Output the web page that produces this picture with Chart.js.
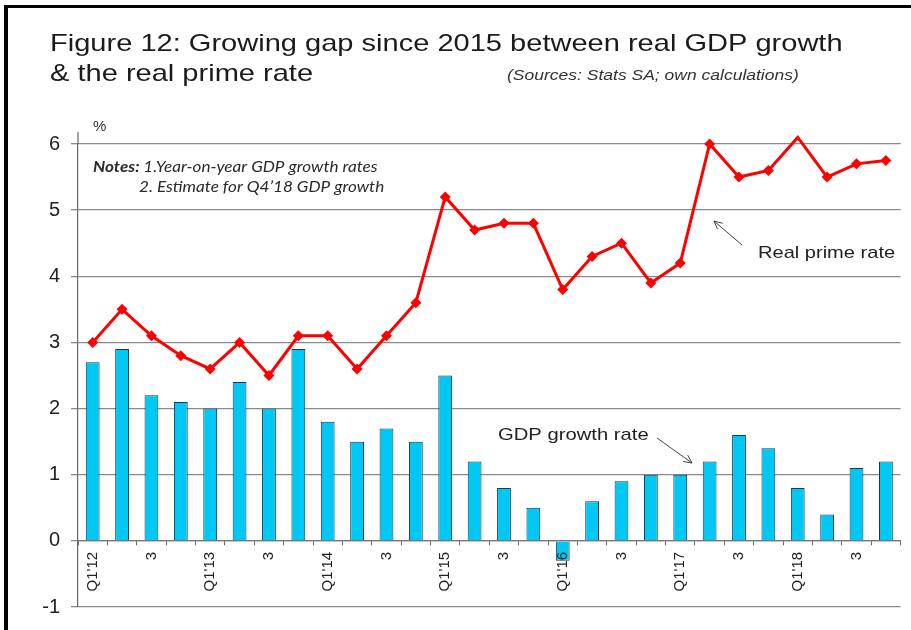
<!DOCTYPE html>
<html>
<head>
<meta charset="utf-8">
<script src="https://cdn.jsdelivr.net/npm/chart.js@4"></script>
<style>
  html, body { margin: 0; padding: 0; background: #fff; }
  #wrap { width: 911px; height: 630px; }
</style>
</head>
<body>
<div id="wrap"><canvas id="gapChart" width="911" height="630"></canvas></div>
<script>
// quarterly categories, Q1'12 .. Q4'18 (only Q1 and Q3 are labelled)
const quarters = [
  "Q1'12", "", "3", "",
  "Q1'13", "", "3", "",
  "Q1'14", "", "3", "",
  "Q1'15", "", "3", "",
  "Q1'16", "", "3", "",
  "Q1'17", "", "3", "",
  "Q1'18", "", "3", ""
];

// year-on-year real GDP growth, %
const gdpGrowth = [
  2.7, 2.9, 2.2, 2.1,
  2.0, 2.4, 2.0, 2.9,
  1.8, 1.5, 1.7, 1.5,
  2.5, 1.2, 0.8, 0.5,
  -0.3, 0.6, 0.9, 1.0,
  1.0, 1.2, 1.6, 1.4,
  0.8, 0.4, 1.1, 1.2
];

// real prime lending rate, %
const realPrime = [
  3.0, 3.5, 3.1, 2.8,
  2.6, 3.0, 2.5, 3.1,
  3.1, 2.6, 3.1, 3.6,
  5.2, 4.7, 4.8, 4.8,
  3.8, 4.3, 4.5, 3.9,
  4.2, 6.0, 5.5, 5.6,
  6.1, 5.5, 5.7, 5.75
];

const yMin = -1;
const yMax = 6;

// text in this figure is set a bit wide, so squeeze it through a horizontal scale
function wideText(ctx, text, x, y, sx) {
  ctx.save();
  ctx.translate(x, y);
  ctx.scale(sx, 1);
  ctx.fillText(text, 0, 0);
  ctx.restore();
}

function arrow(ctx, x1, y1, x2, y2) {
  const ang = Math.atan2(y2 - y1, x2 - x1);
  const head = 9;
  ctx.beginPath();
  ctx.moveTo(x1, y1);
  ctx.lineTo(x2, y2);
  ctx.moveTo(x2, y2);
  ctx.lineTo(x2 - head * Math.cos(ang - 0.45), y2 - head * Math.sin(ang - 0.45));
  ctx.moveTo(x2, y2);
  ctx.lineTo(x2 - head * Math.cos(ang + 0.45), y2 - head * Math.sin(ang + 0.45));
  ctx.stroke();
}

const decorations = {
  id: 'decorations',
  beforeDraw(chart) {
    const ctx = chart.ctx;
    ctx.save();
    ctx.fillStyle = '#fff';
    ctx.fillRect(0, 0, chart.width, chart.height);
    ctx.restore();
  },
  afterDraw(chart) {
    const ctx = chart.ctx;
    const area = chart.chartArea;
    ctx.save();

    // frame
    ctx.fillStyle = '#000';
    ctx.fillRect(4, 5, chart.width - 4, 3);
    ctx.fillRect(4, 5, 4, chart.height - 5);

    // y axis runs a little above the top gridline
    ctx.strokeStyle = '#666';
    ctx.lineWidth = 1.2;
    ctx.beginPath();
    ctx.moveTo(area.left, area.top - 12);
    ctx.lineTo(area.left, area.top);
    ctx.stroke();

    // title
    ctx.fillStyle = '#1b1b1b';
    ctx.textBaseline = 'alphabetic';
    ctx.textAlign = 'left';
    ctx.font = '24px "Liberation Sans", Arial, sans-serif';
    wideText(ctx, 'Figure 12: Growing gap since 2015 between real GDP growth', 50, 51, 1.21);
    wideText(ctx, '& the real prime rate', 50, 81, 1.21);

    ctx.fillStyle = '#333';
    ctx.font = 'italic 14px "Liberation Sans", Arial, sans-serif';
    wideText(ctx, '(Sources: Stats SA; own calculations)', 507, 80, 1.25);

    // unit
    ctx.font = '15px "Liberation Sans", Arial, sans-serif';
    ctx.fillText('%', 93, 131);

    // notes
    ctx.fillStyle = '#2a2a2a';
    ctx.font = 'italic bold 15px Lato, "Liberation Sans", sans-serif';
    wideText(ctx, 'Notes:', 93, 172, 1.14);
    const w = ctx.measureText('Notes: ').width * 1.14;
    ctx.font = 'italic 15px Lato, "Liberation Sans", sans-serif';
    wideText(ctx, '1.Year-on-year GDP growth rates', 93 + w, 172, 1.14);
    wideText(ctx, "2. Estimate for Q4\u201918 GDP growth", 139, 192, 1.14);

    // series annotations
    ctx.fillStyle = '#222';
    ctx.font = '17px "Liberation Sans", Arial, sans-serif';
    wideText(ctx, 'Real prime rate', 758, 258, 1.18);
    wideText(ctx, 'GDP growth rate', 498, 440, 1.19);

    ctx.strokeStyle = '#444';
    ctx.lineWidth = 1;
    arrow(ctx, 742, 245, 714, 221);
    arrow(ctx, 657, 438, 692, 463);

    ctx.restore();
  }
};

new Chart(document.getElementById('gapChart'), {
  data: {
    labels: quarters,
    datasets: [
      {
        type: 'line',
        label: 'Real prime rate',
        data: realPrime,
        borderColor: '#ff0000',
        backgroundColor: '#ff0000',
        borderWidth: 3,
        pointStyle: 'rectRot',
        pointRadius: 5.5,
        pointBorderWidth: 0,
        tension: 0,
        clip: false,
        order: 0
      },
      {
        type: 'bar',
        label: 'GDP growth rate',
        data: gdpGrowth,
        backgroundColor: '#00c8f5',
        borderColor: '#0b3a52',
        borderWidth: 1,
        categoryPercentage: 1,
        barPercentage: 0.47,
        order: 1
      }
    ]
  },
  options: {
    responsive: false,
    animation: false,
    layout: { padding: { left: 0, top: 144, right: 4, bottom: 23 } },
    plugins: {
      legend: { display: false },
      tooltip: { enabled: false }
    },
    scales: {
      x: {
        type: 'category',
        position: { y: 0 },
        offset: true,
        grid: {
          offset: true,
          drawOnChartArea: false,
          drawTicks: true,
          tickLength: 4,
          color: '#666',
          lineWidth: 1
        },
        border: { display: true, color: '#777', width: 1.3, z: 1 },
        ticks: {
          z: 1,
          autoSkip: false,
          minRotation: 90,
          maxRotation: 90,
          padding: 7,
          color: '#222',
          font: { family: '"Liberation Sans", Arial, sans-serif', size: 15 }
        }
      },
      y: {
        min: yMin,
        max: yMax,
        afterFit(scale) { scale.width = 78; },
        grid: {
          color: '#8a8a8a',
          lineWidth: 1.3,
          tickLength: 7
        },
        border: { display: true, color: '#666', width: 1.2 },
        ticks: {
          stepSize: 1,
          padding: 11,
          color: '#222',
          font: { family: '"Liberation Sans", Arial, sans-serif', size: 20 }
        }
      }
    }
  },
  plugins: [decorations]
});
</script>
</body>
</html>
